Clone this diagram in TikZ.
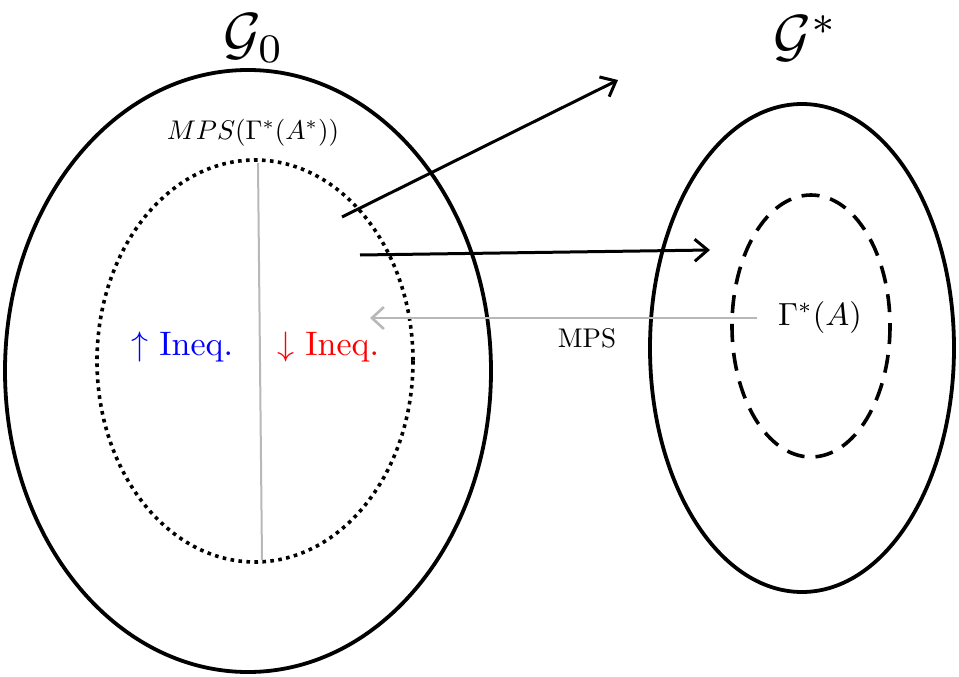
\documentclass[tikz,border=0pt]{standalone}
\usepackage{graphicx}
\usetikzlibrary{arrows.meta}
\begin{document}
\begin{tikzpicture}[x=1pt,y=-1pt,
  bigell/.style={draw=black,line width=3.8pt},
  dotell/.style={draw=black,line width=3.6pt,dash pattern=on 3.6pt off 4.4pt},
  dashell/.style={draw=black,line width=3.6pt,dash pattern=on 18pt off 11pt},
  arr/.style={line width=3pt,-{Straight Barb[length=13pt,width=22pt,line width=3pt]}},
  garr/.style={draw=black!28,line width=2.6pt,-{Straight Barb[length=12pt,width=22pt,line width=2.6pt]}},
  lbl/.style={inner sep=0pt,anchor=center}]
\useasboundingbox (0,0) rectangle (959,677);
% ellipses
\draw[bigell] (248,371) ellipse [x radius=243, y radius=301];
\draw[dotell] (255,361) ellipse [x radius=158, y radius=201];
\draw[bigell] (802,348) ellipse [x radius=152, y radius=244];
\draw[dashell] (811,326) ellipse [x radius=79, y radius=131];
% gray divider
\coordinate (dtop) at (258,163);
\coordinate (dbot) at (262,560);
\draw[draw=black!28,line width=2pt] (dtop) -- (dbot);
% arrow endpoints
\coordinate (a1s) at (342,217);
\coordinate (a1e) at (618,80);
\coordinate (a2s) at (360,255);
\coordinate (a2e) at (710,250);
\coordinate (gs) at (757,318);
\coordinate (ge) at (370,318);
\draw[arr] (a1s) -- (a1e);
\draw[arr] (a2s) -- (a2e);
\draw[garr] (gs) -- (ge);
% labels
\node[lbl] (g0) at (254,38) {\scalebox{5.8}{$\mathcal{G}_0$}};
\node[lbl] (gst) at (806,38) {\scalebox{5.8}{$\mathcal{G}^*$}};
\node[lbl] (mpsg) at (253,133) {\scalebox{2.7}{$MPS(\Gamma^*(A^*))$}};
\node[lbl] (up) at (182,347) {\scalebox{3.4}{\color{blue}$\uparrow$ Ineq.}};
\node[lbl] (down) at (328,347) {\scalebox{3.4}{\color{red}$\downarrow$ Ineq.}};
\node[lbl] (mps) at (587,338) {\scalebox{2.7}{MPS}};
\node[lbl] (gam) at (820,317) {\scalebox{3.2}{$\Gamma^*(A)$}};
\end{tikzpicture}
\end{document}
